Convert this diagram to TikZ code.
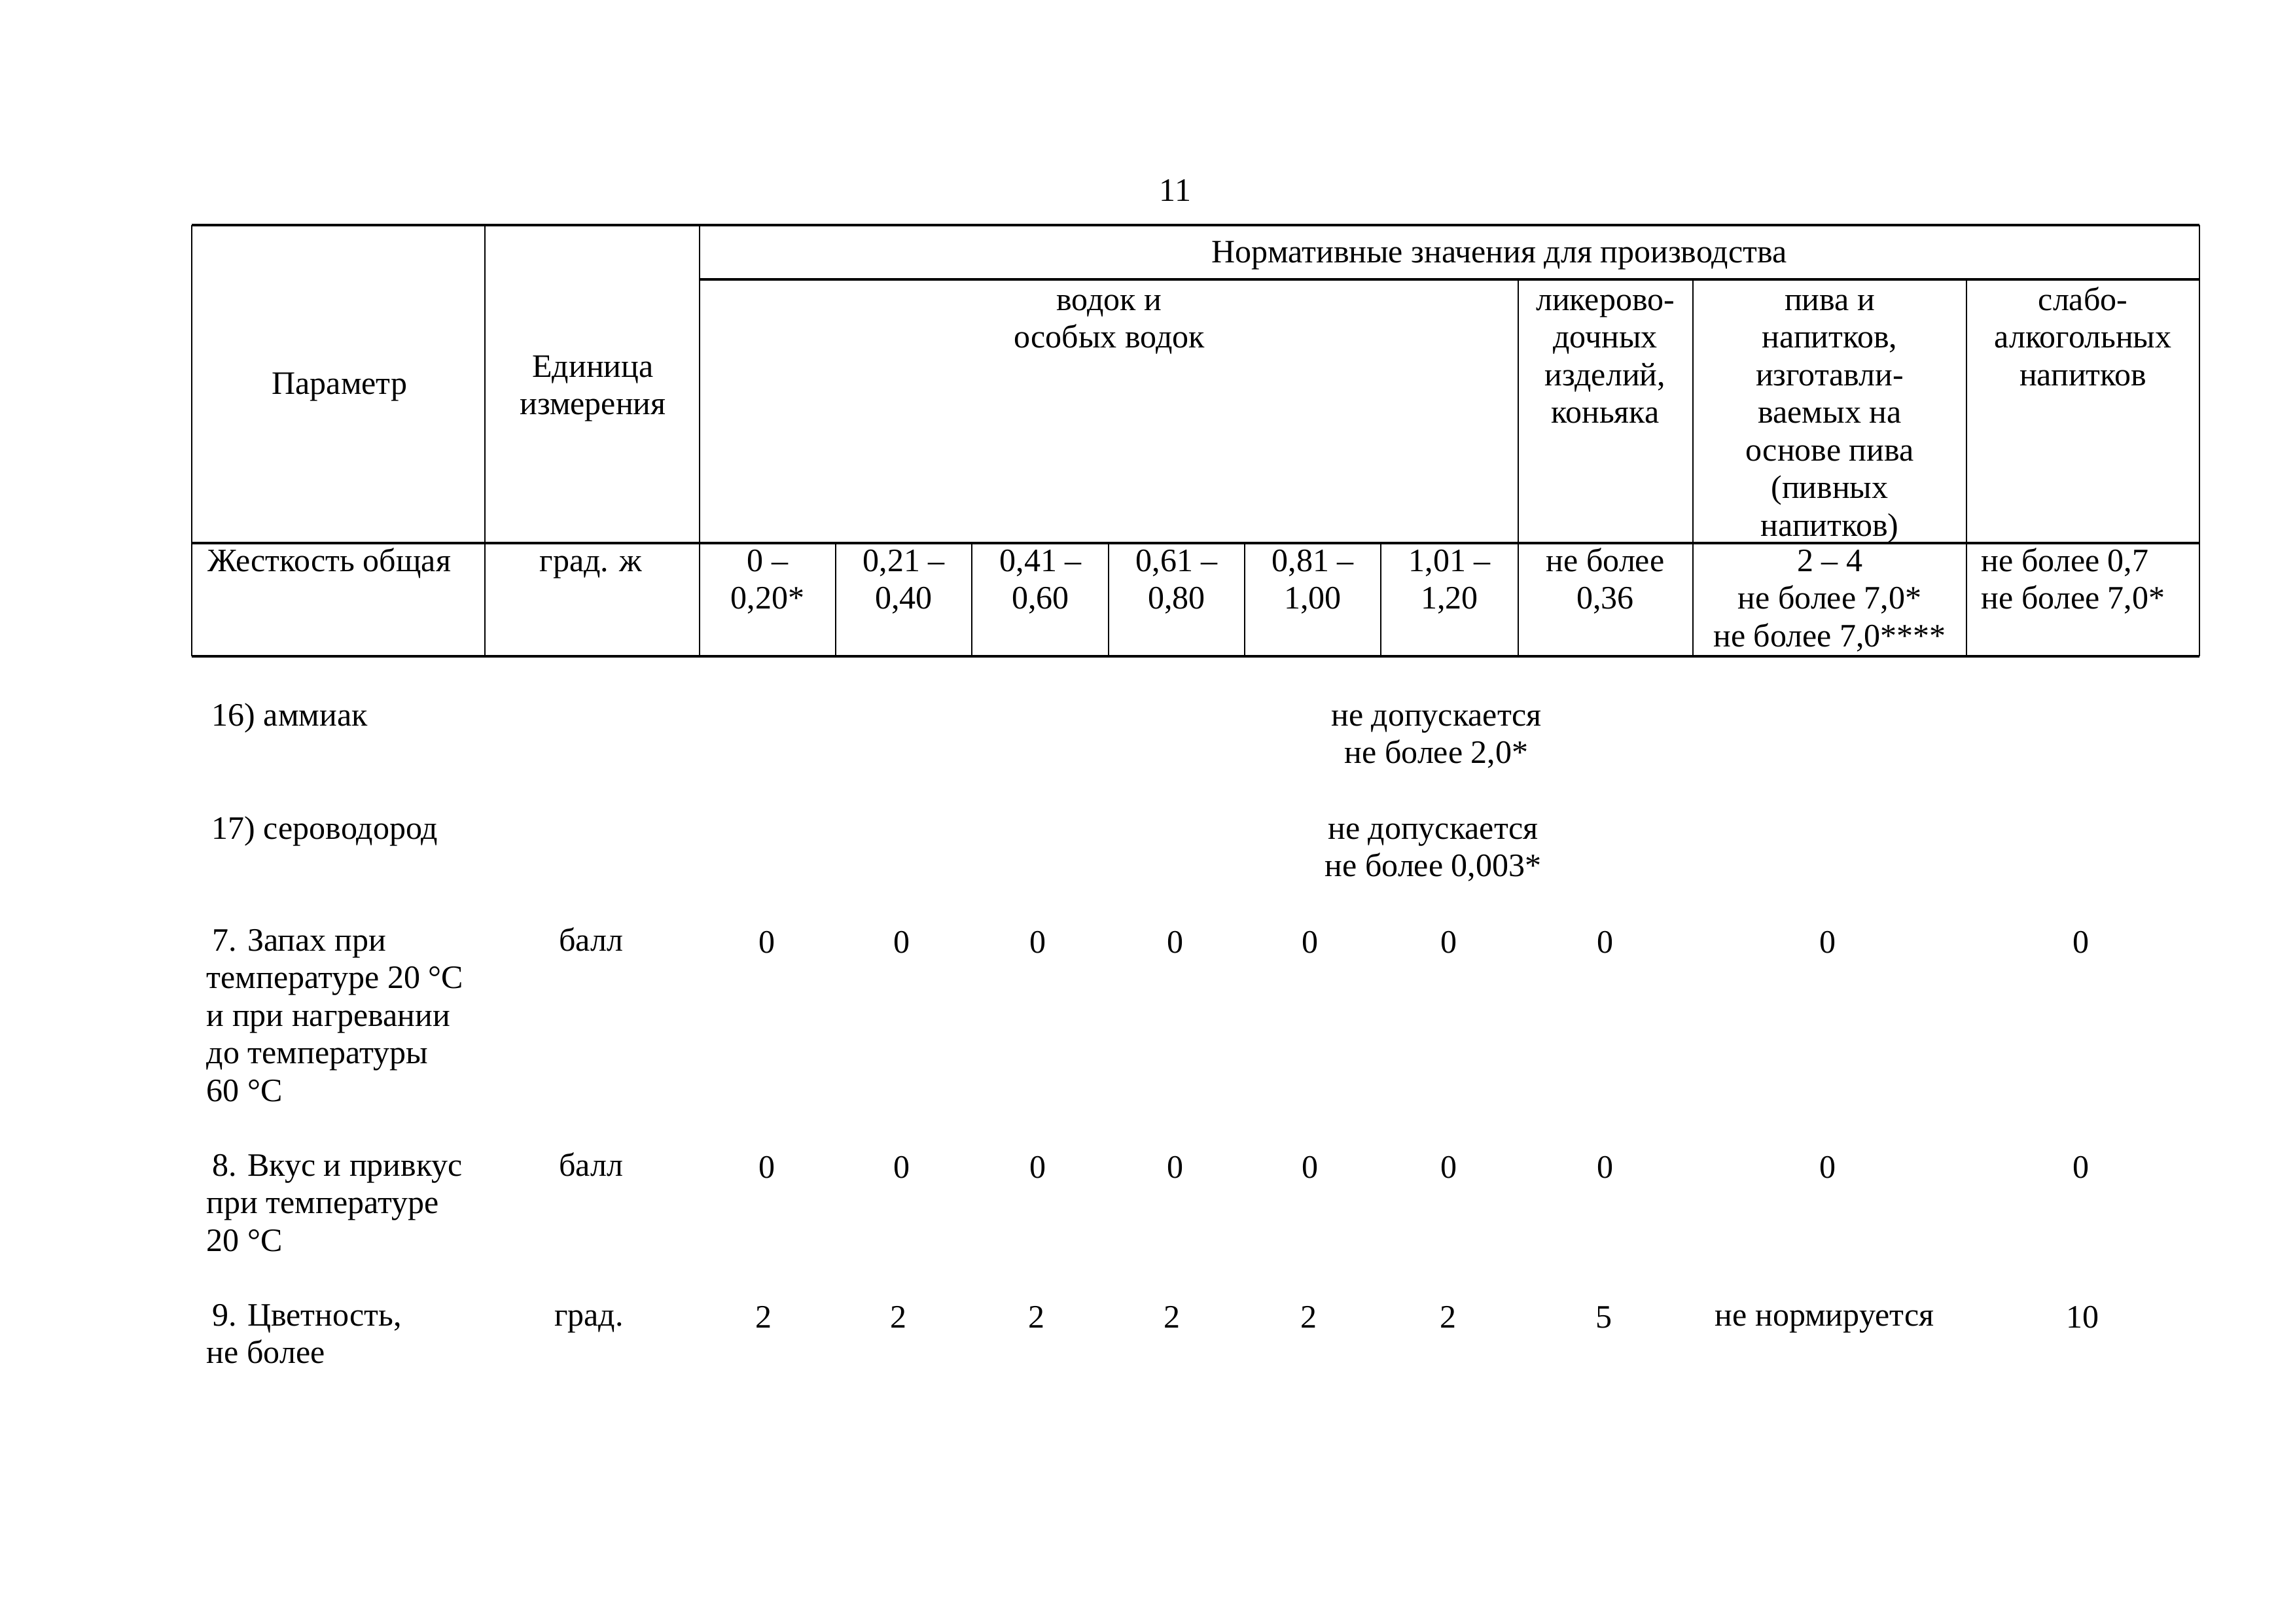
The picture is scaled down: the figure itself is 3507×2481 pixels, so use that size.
\documentclass[tikz,border=0pt]{standalone}
\usepackage{fontspec}
\setmainfont{Liberation Serif}

\begin{document}
\begin{tikzpicture}
[x=0.24pt, y=-0.24pt, every node/.style={inner sep=0pt, font=\fontsize{12pt}{13.8pt}\selectfont}]
\useasboundingbox (0,0) rectangle (3507,2481);
\node (pg) [anchor=base] at (1796, 307) {11};
\draw [line width=0.85pt, color=black] (293, 344) -- (3361, 344);
\draw [line width=0.85pt, color=black] (1069, 427) -- (3361, 427);
\draw [line width=0.85pt, color=black] (293, 830) -- (3361, 830);
\draw [line width=0.85pt, color=black] (293, 1003) -- (3361, 1003);
\draw [line width=0.55pt, color=black] (293, 344) -- (293, 1003);
\draw [line width=0.55pt, color=black] (741, 344) -- (741, 1003);
\draw [line width=0.55pt, color=black] (1069, 344) -- (1069, 1003);
\draw [line width=0.55pt, color=black] (3361, 344) -- (3361, 1003);
\draw [line width=0.55pt, color=black] (2320, 427) -- (2320, 1003);
\draw [line width=0.55pt, color=black] (2587, 427) -- (2587, 1003);
\draw [line width=0.55pt, color=black] (3005, 427) -- (3005, 1003);
\draw [line width=0.55pt, color=black] (1277, 830) -- (1277, 1003);
\draw [line width=0.55pt, color=black] (1485, 830) -- (1485, 1003);
\draw [line width=0.55pt, color=black] (1694, 830) -- (1694, 1003);
\draw [line width=0.55pt, color=black] (1902, 830) -- (1902, 1003);
\draw [line width=0.55pt, color=black] (2110, 830) -- (2110, 1003);
\node (par) [anchor=base] at (519, 602) {Параметр};
\node (unit) [anchor=base, align=center] at (906, 633.5) {Единица\\измерения};
\node (norm) [anchor=base] at (2291, 401) {Нормативные значения для производства};
\node (vodka) [anchor=base, align=center] at (1695, 531.5) {водок и\\особых водок};
\node (liker) [anchor=base, align=center] at (2453, 646.5) {ликерово-\\дочных\\изделий,\\коньяка};
\node (beer) [anchor=base, align=center] at (2796, 819) {пива и\\напитков,\\изготавли-\\ваемых на\\основе пива\\(пивных\\напитков)};
\node (weak) [anchor=base, align=center] at (3183, 589) {слабо-\\алкогольных\\напитков};
\node (hard) [anchor=base west] at (317, 873) {Жесткость общая};
\node (hardu) [anchor=base] at (903, 873) {град. ж};
\node (h1) [anchor=base, align=center] at (1173, 930.5) {0 –\\0,20*};
\node (h2) [anchor=base, align=center] at (1381, 930.5) {0,21 –\\0,40};
\node (h3) [anchor=base, align=center] at (1590, 930.5) {0,41 –\\0,60};
\node (h4) [anchor=base, align=center] at (1798, 930.5) {0,61 –\\0,80};
\node (h5) [anchor=base, align=center] at (2006, 930.5) {0,81 –\\1,00};
\node (h6) [anchor=base, align=center] at (2215, 930.5) {1,01 –\\1,20};
\node (h7) [anchor=base, align=center] at (2453, 930.5) {не более\\0,36};
\node (h8) [anchor=base, align=center] at (2796, 988) {2 – 4\\не более 7,0*\\не более 7,0****};
\node (h9) [anchor=base west, align=left] at (3027, 930.5) {не более 0,7\\не более 7,0*};
\node (amm) [anchor=base west] at (323, 1109) {16) аммиак};
\node (ammv) [anchor=base, align=center] at (2195, 1166.5) {не допускается\\не более 2,0*};
\node (hs) [anchor=base west] at (323, 1282) {17) сероводород};
\node (hsv) [anchor=base, align=center] at (2190, 1339.5) {не допускается\\не более 0,003*};
\node (smell) [anchor=base west, align=left] at (315, 1683) {\,7. Запах при\\температуре 20 °C\\и при нагревании\\до температуры\\60 °C};
\node (smellu) [anchor=base] at (903, 1453) {балл};
\node (s1) [anchor=base] at (1172, 1456) {0};
\node (s2) [anchor=base] at (1378, 1456) {0};
\node (s3) [anchor=base] at (1586, 1456) {0};
\node (s4) [anchor=base] at (1796, 1456) {0};
\node (s5) [anchor=base] at (2002, 1456) {0};
\node (s6) [anchor=base] at (2214, 1456) {0};
\node (s7) [anchor=base] at (2453, 1456) {0};
\node (s8) [anchor=base] at (2793, 1456) {0};
\node (s9) [anchor=base] at (3180, 1456) {0};
\node (taste) [anchor=base west, align=left] at (315, 1912) {\,8. Вкус и привкус\\при температуре\\20 °C};
\node (tasteu) [anchor=base] at (903, 1797) {балл};
\node (t1) [anchor=base] at (1172, 1800) {0};
\node (t2) [anchor=base] at (1378, 1800) {0};
\node (t3) [anchor=base] at (1586, 1800) {0};
\node (t4) [anchor=base] at (1796, 1800) {0};
\node (t5) [anchor=base] at (2002, 1800) {0};
\node (t6) [anchor=base] at (2214, 1800) {0};
\node (t7) [anchor=base] at (2453, 1800) {0};
\node (t8) [anchor=base] at (2793, 1800) {0};
\node (t9) [anchor=base] at (3180, 1800) {0};
\node (col) [anchor=base west, align=left] at (315, 2083.5) {\,9. Цветность,\\не более};
\node (colu) [anchor=base] at (900, 2026) {град.};
\node (c1) [anchor=base] at (1167, 2029) {2};
\node (c2) [anchor=base] at (1373, 2029) {2};
\node (c3) [anchor=base] at (1584, 2029) {2};
\node (c4) [anchor=base] at (1791, 2029) {2};
\node (c5) [anchor=base] at (2000, 2029) {2};
\node (c6) [anchor=base] at (2213, 2029) {2};
\node (c7) [anchor=base] at (2451, 2029) {5};
\node (c8) [anchor=base] at (2788, 2026) {не нормируется};
\node (c9) [anchor=base] at (3182, 2029) {10};
\end{tikzpicture}
\end{document}
